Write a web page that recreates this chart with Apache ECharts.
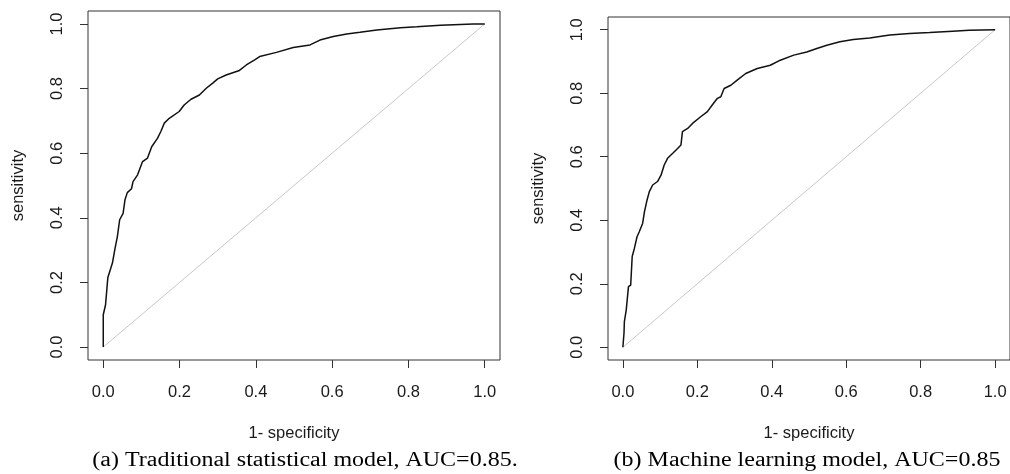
<!DOCTYPE html>
<html><head><meta charset="utf-8">
<script src="https://cdn.jsdelivr.net/npm/echarts@6/dist/echarts.min.js"></script>
<style>html,body{margin:0;padding:0;background:#fff}#c{width:1010px;height:474px}</style>
</head><body><div id="c"></div><script>
// tick labels shared by both panels
const tickValues = [0, 0.2, 0.4, 0.6, 0.8, 1.0];
const xAxisName = '1- specificity';
const yAxisName = 'sensitivity';
const captions = ['(a) Traditional statistical model, AUC=0.85.', '(b) Machine learning model, AUC=0.85'];

// (a) Traditional statistical model ROC
const fprA = [0, 0, 0.006, 0.010, 0.012, 0.024, 0.031, 0.037, 0.043, 0.052, 0.057, 0.063, 0.074, 0.078, 0.090, 0.103, 0.116, 0.127, 0.142, 0.151, 0.160, 0.173, 0.199, 0.212, 0.230, 0.252, 0.270, 0.287, 0.300, 0.322, 0.357, 0.375, 0.397, 0.410, 0.454, 0.498, 0.542, 0.568, 0.603, 0.638, 0.673, 0.717, 0.779, 0.822, 0.884, 0.970, 1.0];
const tprA = [0, 0.100, 0.131, 0.187, 0.215, 0.260, 0.306, 0.342, 0.394, 0.414, 0.456, 0.478, 0.490, 0.512, 0.533, 0.574, 0.585, 0.620, 0.646, 0.667, 0.693, 0.708, 0.729, 0.749, 0.767, 0.780, 0.801, 0.817, 0.830, 0.842, 0.856, 0.873, 0.889, 0.899, 0.912, 0.927, 0.935, 0.950, 0.961, 0.969, 0.974, 0.981, 0.988, 0.991, 0.996, 1.0, 1.0];

// (b) Machine learning model ROC
const fprB = [0, 0.003, 0.004, 0.009, 0.015, 0.021, 0.025, 0.031, 0.038, 0.044, 0.053, 0.058, 0.065, 0.071, 0.080, 0.093, 0.1025, 0.111, 0.120, 0.134, 0.147, 0.156, 0.160, 0.174, 0.187, 0.209, 0.227, 0.240, 0.254, 0.263, 0.272, 0.290, 0.307, 0.330, 0.361, 0.396, 0.423, 0.459, 0.494, 0.521, 0.548, 0.583, 0.619, 0.663, 0.717, 0.770, 0.824, 0.886, 0.930, 1.0];
const tprB = [0, 0.045, 0.081, 0.118, 0.191, 0.196, 0.286, 0.312, 0.348, 0.364, 0.390, 0.427, 0.464, 0.490, 0.511, 0.522, 0.542, 0.574, 0.595, 0.611, 0.626, 0.637, 0.679, 0.689, 0.705, 0.726, 0.742, 0.763, 0.784, 0.789, 0.815, 0.825, 0.841, 0.862, 0.878, 0.888, 0.904, 0.920, 0.930, 0.941, 0.951, 0.962, 0.969, 0.974, 0.983, 0.988, 0.991, 0.995, 0.998, 1.0];

// chance diagonal
const diagX = [0, 1];
const diagY = [0, 1];

const pairs = (xs, ys) => xs.map((x, i) => [x, ys[i]]);
const sans = 'Liberation Sans, Arial, sans-serif';
const serif = 'Liberation Serif, Times New Roman, serif';
const txt = '#1a1a1a';
const fs = 16.5;

function xAx(gi) {
  return {
    type: 'value', gridIndex: gi, min: -0.04, max: 1.04,
    name: xAxisName, nameLocation: 'middle', nameGap: 65,
    nameTextStyle: {fontFamily: sans, fontSize: fs, color: txt},
    axisLine: {show: false, onZero: false},
    axisTick: {show: true, inside: false, length: 8, customValues: tickValues, lineStyle: {color: '#333', width: 1}},
    axisLabel: {customValues: tickValues, margin: 24, fontFamily: sans, fontSize: fs, color: txt, formatter: v => v.toFixed(1)},
    splitLine: {show: false}
  };
}
function yAx(gi) {
  return {
    type: 'value', gridIndex: gi, min: -0.04, max: 1.04,
    name: yAxisName, nameLocation: 'middle', nameGap: 61,
    nameTextStyle: {fontFamily: sans, fontSize: fs, color: txt},
    axisLine: {show: false, onZero: false},
    axisTick: {show: true, inside: false, length: 8, customValues: tickValues, lineStyle: {color: '#333', width: 1}},
    axisLabel: {customValues: tickValues, rotate: 90, margin: 22, fontFamily: sans, fontSize: fs, color: txt, formatter: v => v.toFixed(1)},
    splitLine: {show: false}
  };
}

const chart = echarts.init(document.getElementById('c'), null, {renderer: 'canvas'});
chart.setOption({
  animation: false,
  backgroundColor: '#fff',
  grid: [
    {left: 88, top: 11, width: 412, height: 349, show: true, borderColor: '#333', borderWidth: 1, containLabel: false},
    {left: 608, top: 17, width: 405, height: 343, show: true, borderColor: '#333', borderWidth: 1, containLabel: false}
  ],
  xAxis: [xAx(0), xAx(1)],
  yAxis: [yAx(0), yAx(1)],
  series: [
    {type: 'line', xAxisIndex: 0, yAxisIndex: 0, data: pairs(diagX, diagY), showSymbol: false, lineStyle: {color: '#c8c8c8', width: 1}},
    {type: 'line', xAxisIndex: 0, yAxisIndex: 0, data: pairs(fprA, tprA), showSymbol: false, lineStyle: {color: '#111', width: 1.5}},
    {type: 'line', xAxisIndex: 1, yAxisIndex: 1, data: pairs(diagX, diagY), showSymbol: false, lineStyle: {color: '#c8c8c8', width: 1}},
    {type: 'line', xAxisIndex: 1, yAxisIndex: 1, data: pairs(fprB, tprB), showSymbol: false, lineStyle: {color: '#111', width: 1.5}}
  ],
  graphic: [
    {type: 'text', x: 305, y: 461, scaleX: 1.2, style: {text: captions[0], font: '20px ' + serif, fill: '#000', align: 'center', verticalAlign: 'middle'}},
    {type: 'text', x: 807, y: 461, scaleX: 1.2, style: {text: captions[1], font: '20px ' + serif, fill: '#000', align: 'center', verticalAlign: 'middle'}}
  ]
});
</script></body></html>
